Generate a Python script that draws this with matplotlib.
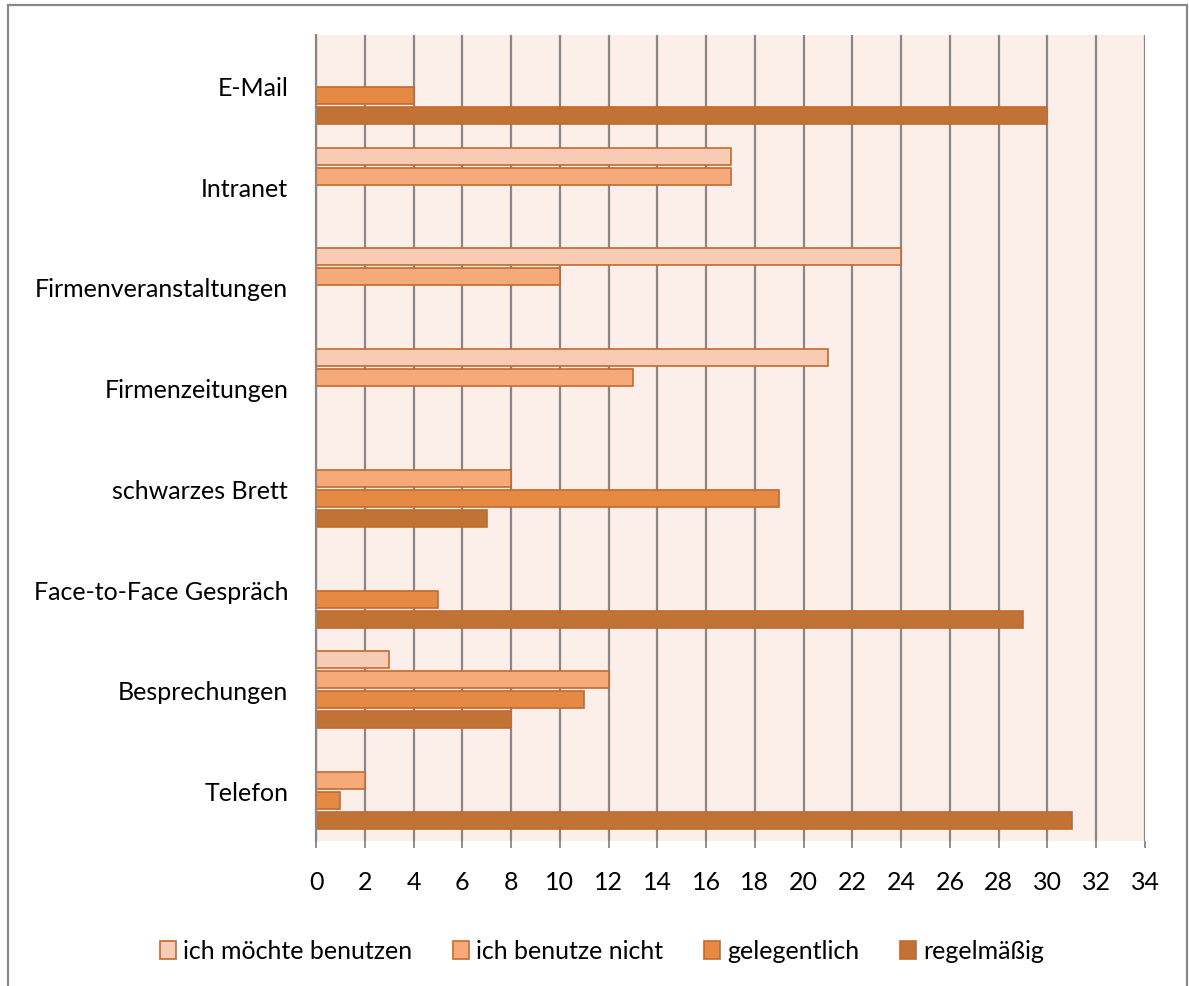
import numpy as np
import matplotlib.pyplot as plt
from matplotlib.patches import Rectangle

plt.rcParams['font.family'] = ['Lato', 'DejaVu Sans']

categories = ["E-Mail", "Intranet", "Firmenveranstaltungen", "Firmenzeitungen",
              "schwarzes Brett", "Face-to-Face Gespräch", "Besprechungen", "Telefon"]
series_names = ["ich möchte benutzen", "ich benutze nicht", "gelegentlich", "regelmäßig"]
moechte = [0, 17, 24, 21, 0, 0, 3, 0]
nicht = [0, 17, 10, 13, 8, 0, 12, 2]
gelegentlich = [4, 0, 0, 0, 19, 5, 11, 1]
regelmaessig = [30, 0, 0, 0, 7, 29, 8, 31]
series_values = [moechte, nicht, gelegentlich, regelmaessig]
colors = ["#F8CBB4", "#F6AA79", "#E68A43", "#C07334"]
edge = "#C46A2E"
xticks = list(range(0, 35, 2))

fig = plt.figure(figsize=(11.89, 9.87), dpi=100)
ax = fig.add_axes([316 / 1189, 1 - 842 / 987, (1145 - 316) / 1189, (842 - 36) / 987])
ax.set_facecolor("#FCEEE9")

y = np.arange(len(categories))
slot = 0.198
height = 0.168
handles = []
for i, (name, vals, c) in enumerate(zip(series_names, series_values, colors)):
    vals = np.array(vals)
    pos = y + (i - 1.5) * slot
    keep = vals > 0
    ax.barh(pos[keep], vals[keep], height=height, color=c, edgecolor=edge,
            linewidth=1.2, zorder=3)
    handles.append(Rectangle((0, 0), 1, 1, facecolor=c, edgecolor=edge, linewidth=1.2))

ax.set_ylim(len(categories) - 0.5, -0.5)
ax.set_xlim(0, 34)
ax.set_xticks(xticks)
ax.set_xticklabels([str(t) for t in xticks], fontsize=18)
ax.set_yticks(y)
ax.set_yticklabels(categories, fontsize=18)
ax.tick_params(axis='y', length=0, pad=20)
ax.tick_params(axis='x', length=5, color="#888888", pad=16, width=1.3)
ax.grid(axis='x', color="#888888", linewidth=1.6, zorder=1)
for s in ["top", "right", "bottom"]:
    ax.spines[s].set_visible(False)
ax.spines["left"].set_color("#888888")
ax.spines["left"].set_linewidth(1.6)
ax.spines["left"].set_zorder(4)

fig.legend(handles, series_names, loc="center", bbox_to_anchor=(602 / 1189, 1 - 952 / 987),
           ncol=4, frameon=False, fontsize=18, handlelength=0.65, handleheight=0.7,
           handletextpad=0.28, columnspacing=1.62)

# outer chart border
fig.add_artist(Rectangle((8 / 1189, -0.05), 1179 / 1189, 1.05 - 6 / 987,
                         transform=fig.transFigure, fill=False,
                         edgecolor="#888888", linewidth=1.6, clip_on=False))

fig.savefig("out.png", dpi=100)
